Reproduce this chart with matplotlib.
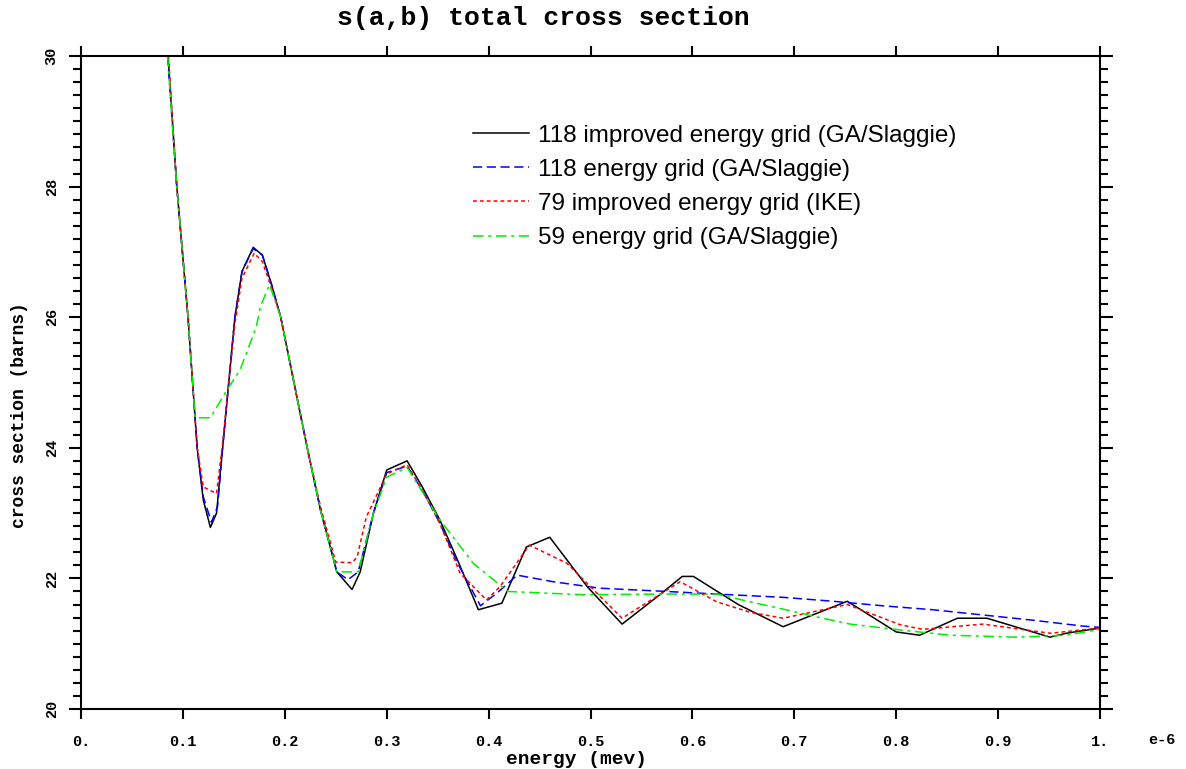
import matplotlib
matplotlib.use("Agg")
import matplotlib.pyplot as plt
from matplotlib.ticker import MultipleLocator

# energy (in units of 1e-6 MeV) and total cross section (barns)
x_black = [0.085, 0.094, 0.105, 0.114, 0.120, 0.127, 0.133, 0.139, 0.145, 0.151, 0.158, 0.169,
           0.178, 0.187, 0.196, 0.209, 0.222, 0.235, 0.246, 0.251, 0.266, 0.274, 0.287, 0.300,
           0.320, 0.335, 0.352, 0.369, 0.390, 0.413, 0.437, 0.460, 0.497, 0.531, 0.568, 0.590,
           0.601, 0.645, 0.689, 0.752, 0.800, 0.823, 0.860, 0.889, 0.951, 0.967, 1.000]
y_black = [30.1, 28.0, 26.0, 24.0, 23.2, 22.78, 23.0, 24.0, 25.0, 26.0, 26.7, 27.07,
           26.95, 26.5, 26.0, 25.0, 24.0, 23.05, 22.4, 22.1, 21.83, 22.1, 23.0, 23.66,
           23.8, 23.4, 22.9, 22.3, 21.52, 21.62, 22.48, 22.63, 21.87, 21.3, 21.75, 22.03,
           22.03, 21.6, 21.26, 21.65, 21.18, 21.13, 21.39, 21.39, 21.1, 21.16, 21.24]

x_blue = [0.085, 0.094, 0.105, 0.114, 0.120, 0.128, 0.134, 0.139, 0.145, 0.151, 0.158, 0.169,
          0.178, 0.187, 0.196, 0.209, 0.222, 0.235, 0.246, 0.251, 0.262, 0.272, 0.287, 0.300,
          0.320, 0.335, 0.352, 0.369, 0.392, 0.410, 0.428, 0.463, 0.509, 0.575, 0.624, 0.689,
          0.738, 0.787, 0.836, 0.885, 0.934, 0.983, 1.000]
y_blue = [30.0, 28.0, 26.0, 24.0, 23.25, 22.86, 23.1, 24.0, 25.0, 26.0, 26.7, 27.05,
          26.95, 26.5, 26.0, 25.0, 24.0, 23.05, 22.4, 22.1, 21.98, 22.1, 23.0, 23.62,
          23.72, 23.35, 22.85, 22.25, 21.58, 21.8, 22.05, 21.95, 21.85, 21.8, 21.76, 21.71,
          21.65, 21.58, 21.52, 21.44, 21.36, 21.27, 21.25]

x_red = [0.085, 0.094, 0.105, 0.114, 0.120, 0.133, 0.139, 0.145, 0.151, 0.158, 0.170,
         0.178, 0.187, 0.196, 0.209, 0.222, 0.235, 0.250, 0.266, 0.271, 0.280, 0.300,
         0.320, 0.335, 0.352, 0.372, 0.398, 0.411, 0.440, 0.477, 0.531, 0.588, 0.624,
         0.657, 0.689, 0.752, 0.804, 0.826, 0.885, 0.951, 1.000]
y_red = [30.2, 28.0, 26.0, 24.0, 23.4, 23.3, 24.07, 25.0, 25.9, 26.6, 26.98,
         26.85, 26.45, 26.0, 25.0, 24.0, 23.1, 22.25, 22.24, 22.33, 22.94, 23.6,
         23.74, 23.35, 22.85, 22.08, 21.67, 21.87, 22.51, 22.23, 21.39, 21.95, 21.64,
         21.48, 21.39, 21.6, 21.29, 21.22, 21.3, 21.16, 21.24]

x_green = [0.085, 0.094, 0.105, 0.112, 0.127, 0.143, 0.156, 0.172, 0.176, 0.185, 0.196,
           0.209, 0.222, 0.235, 0.246, 0.251, 0.272, 0.287, 0.300, 0.320, 0.352, 0.385,
           0.411, 0.419, 0.493, 0.575, 0.624, 0.657, 0.689, 0.722, 0.755, 0.804, 0.853,
           0.918, 0.967, 1.000]
y_green = [30.0, 28.0, 26.0, 24.46, 24.46, 24.88, 25.19, 25.85, 26.16, 26.5, 26.0,
           25.0, 24.0, 23.05, 22.4, 22.1, 22.1, 23.0, 23.55, 23.7, 22.9, 22.23,
           21.9, 21.8, 21.75, 21.76, 21.76, 21.64, 21.53, 21.41, 21.3, 21.21, 21.13,
           21.1, 21.13, 21.22]

labels = ["118 improved energy grid (GA/Slaggie)",
          "118 energy grid (GA/Slaggie)",
          "79 improved energy grid (IKE)",
          "59 energy grid (GA/Slaggie)"]

x_ticks = [0.0, 0.1, 0.2, 0.3, 0.4, 0.5, 0.6, 0.7, 0.8, 0.9, 1.0]
x_ticklabels = ["0.", "0.1", "0.2", "0.3", "0.4", "0.5", "0.6", "0.7", "0.8", "0.9", "1."]
y_ticks = [20, 22, 24, 26, 28, 30]

mono = "Liberation Mono"

fig = plt.figure(figsize=(11.86, 7.69), dpi=100)
ax = fig.add_axes([81 / 1186, 60 / 769, 1019 / 1186, 653 / 769])

ax.plot(x_black, y_black, color="black", lw=1.1, label=labels[0])
ax.plot(x_blue, y_blue, color="#0000ff", lw=1.1, dashes=(6, 3), label=labels[1])
ax.plot(x_red, y_red, color="#ff0000", lw=1.1, dashes=(2.5, 2), label=labels[2])
ax.plot(x_green, y_green, color="#00ee00", lw=1.1, dashes=(7, 3, 2, 3), label=labels[3])

ax.set_xlim(0, 1)
ax.set_ylim(20, 30)
ax.set_xticks(x_ticks)
ax.set_xticklabels(x_ticklabels, fontfamily=mono, fontweight="bold", fontsize=11)
ax.set_yticks(y_ticks)
ax.set_yticklabels([str(v) for v in y_ticks], fontfamily=mono, fontweight="bold",
                   fontsize=11, rotation=90, va="center")
ax.yaxis.set_minor_locator(MultipleLocator(0.2))

ax.tick_params(axis="x", which="major", direction="out", length=7, width=1.5,
               top=True, bottom=True, pad=12)
ax.tick_params(axis="y", which="major", direction="out", length=9, width=1.5,
               left=True, right=True, pad=7)
ax.tick_params(axis="y", which="minor", direction="out", length=5.5, width=1.5,
               left=True, right=True)
for s in ax.spines.values():
    s.set_linewidth(1.5)

ax.set_xlabel("energy (mev)", fontfamily=mono, fontweight="bold", fontsize=14)
ax.xaxis.set_label_coords(495 / 1019, -50 / 653)
ax.xaxis.label.set_va("center")
ax.set_ylabel("cross section (barns)", fontfamily=mono, fontweight="bold", fontsize=13)
ax.yaxis.set_label_coords(-61 / 1019, 0.45)
ax.yaxis.label.set_va("center")

fig.text(543 / 1186, 1 - 18 / 769, "s(a,b) total cross section", fontfamily=mono,
         fontweight="bold", fontsize=19, ha="center", va="center")
fig.text(1162 / 1186, 1 - 740 / 769, "e-6", fontfamily=mono, fontweight="bold",
         fontsize=11, ha="center", va="center")

ax.legend(loc="upper left", bbox_to_anchor=(0.385, 0.895), frameon=False,
          prop={"family": "Liberation Sans", "size": 17.5}, handlelength=2.3,
          handletextpad=0.35, labelspacing=0.5, borderpad=0, borderaxespad=0)

fig.savefig("out.png", dpi=100)
